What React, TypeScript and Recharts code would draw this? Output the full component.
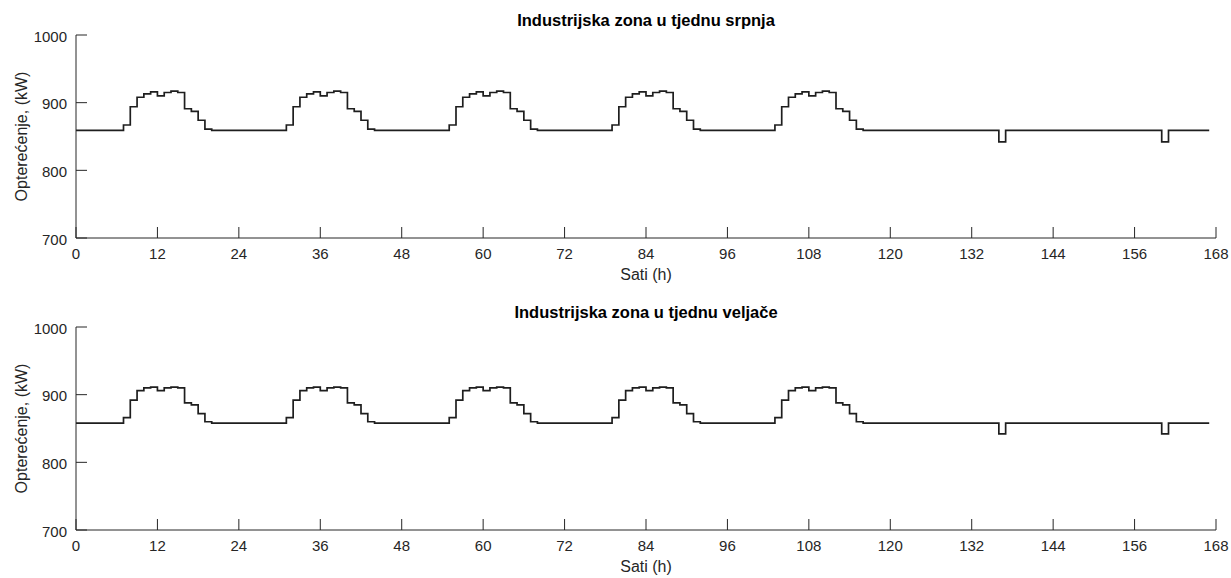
import React from 'react';
import { LineChart, Line, XAxis, YAxis } from 'recharts';

// Hour-by-hour profiles (hours 0..23 of a day)
const julyWeekday = [859, 859, 859, 859, 859, 859, 859, 867, 894, 908, 913, 916, 910, 915, 917, 915, 891, 887, 874, 861, 859, 859, 859, 859];
const julyWeekend = [859, 859, 859, 859, 859, 859, 859, 859, 859, 859, 859, 859, 859, 859, 859, 859, 842, 859, 859, 859, 859, 859, 859, 859];
const febWeekday = [858, 858, 858, 858, 858, 858, 858, 866, 892, 906, 910, 911, 906, 910, 911, 910, 888, 885, 872, 860, 858, 858, 858, 858];
const febWeekend = [858, 858, 858, 858, 858, 858, 858, 858, 858, 858, 858, 858, 858, 858, 858, 858, 842, 858, 858, 858, 858, 858, 858, 858];

const julyWeek = [...julyWeekday, ...julyWeekday, ...julyWeekday, ...julyWeekday, ...julyWeekday, ...julyWeekend, ...julyWeekend];
const febWeek = [...febWeekday, ...febWeekday, ...febWeekday, ...febWeekday, ...febWeekday, ...febWeekend, ...febWeekend];

const xTicks = [0, 12, 24, 36, 48, 60, 72, 84, 96, 108, 120, 132, 144, 156, 168];
const yTicks = [700, 800, 900, 1000];

const titles = ['Industrijska zona u tjednu srpnja', 'Industrijska zona u tjednu veljače'];
const xLabel = 'Sati (h)';
const yLabel = 'Opterećenje, (kW)';

const julyData = julyWeek.map((v, i) => ({ h: i, v }));
const febData = febWeek.map((v, i) => ({ h: i, v }));

const AX = '#262626';
const FONT = '"Liberation Sans", Arial, Helvetica, sans-serif';
const W = 1231;
const H = 292;
const TICK = 11;

const XTick = (props: any) => {
  const { x, y, payload } = props;
  return (
    <g>
      <line x1={x} x2={x} y1={y} y2={y - TICK} stroke={AX} strokeWidth={1} />
      <text x={x} y={y + 10} textAnchor="middle" dominantBaseline="hanging" fill={AX} fontSize={15} fontFamily={FONT}>
        {payload.value}
      </text>
    </g>
  );
};

const YTick = (props: any) => {
  const { x, y, payload } = props;
  return (
    <g>
      <line x1={x} x2={x + TICK} y1={y} y2={y} stroke={AX} strokeWidth={1} />
      <text x={x - 9} y={y + 1} textAnchor="end" dominantBaseline="central" fill={AX} fontSize={15} fontFamily={FONT}>
        {payload.value}
      </text>
    </g>
  );
};

const Panel = ({ data, top, title }: { data: any[]; top: number; title: string }) => (
  <div style={{ position: 'absolute', left: 0, top, width: W, height: H }}>
    <LineChart width={W} height={H} data={data} margin={{ top: 35, right: 15, left: 0, bottom: 24 }}>
      <XAxis
        dataKey="h"
        type="number"
        domain={[0, 168]}
        ticks={xTicks}
        tick={<XTick />}
        tickSize={0}
        tickMargin={0}
        tickLine={false}
        axisLine={{ stroke: AX, strokeWidth: 1 }}
        height={30}
        interval={0}
      />
      <YAxis
        type="number"
        domain={[700, 1000]}
        ticks={yTicks}
        tick={<YTick />}
        tickSize={0}
        tickMargin={0}
        tickLine={false}
        axisLine={{ stroke: AX, strokeWidth: 1 }}
        width={76}
        interval={0}
      />
      <Line type="stepAfter" dataKey="v" stroke="#1e1e1e" strokeWidth={1.7} dot={false} activeDot={false} isAnimationActive={false} />
    </LineChart>
    <svg width={W} height={H} style={{ position: 'absolute', left: 0, top: 0, pointerEvents: 'none' }}>
      <text x={646} y={26} textAnchor="middle" fontWeight="bold" fontSize={16.5} fontFamily={FONT} fill="#000">
        {title}
      </text>
      <text x={646} y={280} textAnchor="middle" fontSize={16} fontFamily={FONT} fill={AX}>
        {xLabel}
      </text>
      <text
        x={21}
        y={136.5}
        textAnchor="middle"
        dominantBaseline="central"
        fontSize={16}
        fontFamily={FONT}
        fill={AX}
        transform="rotate(-90 21 136.5)"
      >
        {yLabel}
      </text>
    </svg>
  </div>
);

export default function App() {
  return (
    <div style={{ position: 'absolute', left: 0, top: 0, width: W, height: 578, background: '#fff' }}>
      <Panel data={julyData} top={0} title={titles[0]} />
      <Panel data={febData} top={292} title={titles[1]} />
    </div>
  );
}
